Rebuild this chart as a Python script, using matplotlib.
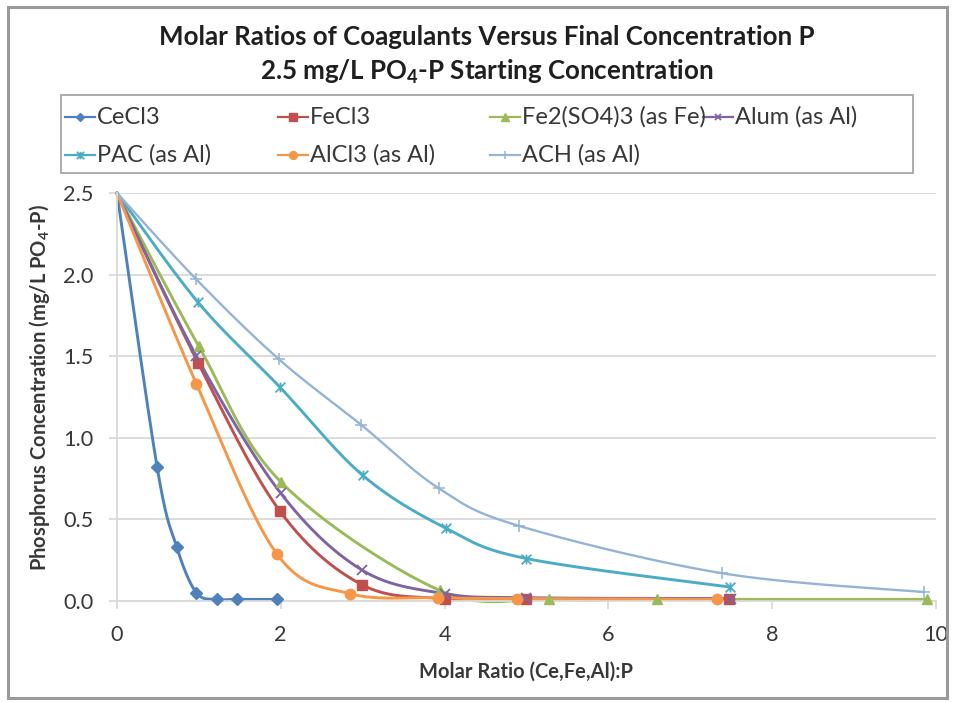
"""Molar ratio of coagulants vs final phosphorus concentration (Excel-style chart)."""

import numpy as np
import matplotlib
matplotlib.use("Agg")
import matplotlib.pyplot as plt
from matplotlib.lines import Line2D
from matplotlib.patches import Rectangle
from matplotlib.path import Path

plt.rcParams["font.family"] = ["Lato", "DejaVu Sans"]
plt.rcParams["mathtext.fontset"] = "custom"
plt.rcParams["mathtext.rm"] = "Lato"
plt.rcParams["mathtext.bf"] = "Lato:bold"

# ---------------------------------------------------------------------------
# Data
# ---------------------------------------------------------------------------
SERIES_NAMES = [
    "CeCl3", "FeCl3", "Fe2(SO4)3 (as Fe)", "Alum (as Al)",
    "PAC (as Al)", "AlCl3 (as Al)", "ACH (as Al)",
]

cecl3_x = [0, 0.49, 0.73, 0.97, 1.22, 1.46, 1.95]
cecl3_y = [2.5, 0.82, 0.33, 0.05, 0.01, 0.01, 0.01]

fecl3_x = [0, 0.99, 1.99, 2.99, 4.0, 4.99, 7.47]
fecl3_y = [2.5, 1.46, 0.55, 0.10, 0.015, 0.015, 0.01]

fe2so4_x = [0, 1.0, 2.0, 3.94, 5.27, 6.59, 9.89]
fe2so4_y = [2.5, 1.56, 0.73, 0.065, 0.01, 0.01, 0.01]

alum_x = [0, 0.97, 2.0, 2.99, 4.0, 5.0, 7.5]
alum_y = [2.5, 1.50, 0.66, 0.19, 0.045, 0.02, 0.015]

pac_x = [0, 0.99, 1.99, 3.0, 4.02, 5.0, 7.49]
pac_y = [2.5, 1.83, 1.31, 0.77, 0.445, 0.26, 0.085]

alcl3_x = [0, 0.97, 1.95, 2.84, 3.92, 4.89, 7.33]
alcl3_y = [2.5, 1.33, 0.29, 0.045, 0.02, 0.015, 0.01]

ach_x = [0, 0.97, 1.98, 2.98, 3.93, 4.91, 7.39, 9.85]
ach_y = [2.5, 1.97, 1.48, 1.08, 0.69, 0.46, 0.17, 0.055]

X_TICKS = [0, 2, 4, 6, 8, 10]
Y_TICKS = [0.0, 0.5, 1.0, 1.5, 2.0, 2.5]

# ---------------------------------------------------------------------------
# Styling / layout (pixel positions measured on the reference)
# ---------------------------------------------------------------------------
W, H = 954, 702
AX_LEFT, AX_RIGHT, AX_TOP, AX_BOTTOM = 117, 936, 193, 601
TEXT_DARK = "#1F1F1F"
TEXT_GREY = "#383838"
GRID = "#D9D9D9"

STAR = Path(
    [(-1, -1), (1, 1), (-1, 1), (1, -1), (0, -1), (0, 1)],
    [Path.MOVETO, Path.LINETO, Path.MOVETO, Path.LINETO, Path.MOVETO, Path.LINETO],
)
STYLES = [
    dict(color="#4F81BD", marker="D", ms=6),
    dict(color="#C0504D", marker="s", ms=7.5),
    dict(color="#9BBB59", marker="^", ms=7.5),
    dict(color="#8064A2", marker="x", ms=6.5, mew=1.3),
    dict(color="#4BACC6", marker=STAR, ms=7, mew=1.3),
    dict(color="#F79646", marker="o", ms=7.5),
    dict(color="#95B3D7", marker="+", ms=8, mew=1.1),
]
LINE_WIDTHS = [2.1, 2.1, 2.1, 2.1, 2.1, 2.1, 1.7]


def fx(px):
    return px / W


def fy(py):
    return 1 - py / H


def excel_smooth(x, y, n=30):
    """Bezier smoothing similar to Excel's 'smoothed line' option."""
    pts = np.column_stack([x, y]).astype(float)
    out = [pts[0]]
    t = np.linspace(0, 1, n)[1:, None]
    for i in range(len(pts) - 1):
        p0 = pts[i - 1] if i > 0 else pts[i]
        p1, p2 = pts[i], pts[i + 1]
        p3 = pts[i + 2] if i + 2 < len(pts) else pts[i + 1]
        c1 = p1 + (p2 - p0) / 6
        c2 = p2 - (p3 - p1) / 6
        seg = (1 - t) ** 3 * p1 + 3 * (1 - t) ** 2 * t * c1 + 3 * (1 - t) * t ** 2 * c2 + t ** 3 * p2
        out.extend(seg)
    out = np.array(out)
    return out[:, 0], out[:, 1]


def size_for_width(fig, text, width_px, weight="normal", base=12.0):
    """Font size (pt) at which `text` is about `width_px` wide."""
    renderer = fig.canvas.get_renderer()
    probe = fig.text(0, 0, text, fontsize=base, fontweight=weight)
    w = probe.get_window_extent(renderer).width
    probe.remove()
    return base * width_px / w


def main() -> None:
    fig = plt.figure(figsize=(W / 100, H / 100), dpi=100)

    title_fs = size_for_width(fig, "Molar Ratios of Coagulants Versus Final Concentration P",
                              649, "bold")
    legend_fs = size_for_width(fig, "Alum (as Al)", 122)
    tick_fs = size_for_width(fig, "2.5", 30)
    label_fs = size_for_width(fig, "Phosphorus Concentration (mg/L PO4-P)", 366, "bold")

    # chart border
    fig.patches.append(Rectangle((fx(8), fy(698)), fx(947) - fx(8), fy(7) - fy(698),
                                 transform=fig.transFigure, fill=False,
                                 edgecolor="#9A9A9A", linewidth=2.2))

    ax = fig.add_axes([fx(AX_LEFT), fy(AX_BOTTOM), fx(AX_RIGHT) - fx(AX_LEFT),
                       fy(AX_TOP) - fy(AX_BOTTOM)])

    data = [
        (cecl3_x, cecl3_y), (fecl3_x, fecl3_y), (fe2so4_x, fe2so4_y), (alum_x, alum_y),
        (pac_x, pac_y), (alcl3_x, alcl3_y), (ach_x, ach_y),
    ]
    for (xs, ys), st, lw in zip(data, STYLES, LINE_WIDTHS):
        sx, sy = excel_smooth(xs, ys)
        ax.plot(sx, sy, color=st["color"], lw=lw, solid_capstyle="round", zorder=2,
                clip_on=False)
        ax.plot(xs[1:], ys[1:], linestyle="none", marker=st["marker"], ms=st["ms"],
                color=st["color"], mec=st["color"], mew=st.get("mew", 1.0), zorder=3,
                clip_on=False)

    ax.set_xlim(0, 10)
    ax.set_ylim(0, 2.5)
    ax.set_xticks(X_TICKS)
    ax.set_yticks(Y_TICKS)
    ax.set_yticklabels([f"{v:.1f}" for v in Y_TICKS])
    ax.grid(axis="y", color=GRID, linewidth=1.3)
    ax.set_axisbelow(True)
    for side in ("top", "right"):
        ax.spines[side].set_visible(False)
    for side in ("left", "bottom"):
        ax.spines[side].set_color(GRID)
        ax.spines[side].set_linewidth(1.3)
    ax.tick_params(axis="both", direction="out", length=6, width=1.3, color=GRID,
                   labelsize=tick_fs, labelcolor=TEXT_GREY, pad=11)

    ax.set_xlabel("Molar Ratio (Ce,Fe,Al):P", fontsize=label_fs, fontweight="bold",
                  color=TEXT_GREY, va="center")
    ax.xaxis.set_label_coords(0.5, -(672 - AX_BOTTOM) / (AX_BOTTOM - AX_TOP))
    ax.set_ylabel(r"Phosphorus Concentration (mg/L PO$\mathbf{_4}$-P)", fontsize=label_fs,
                  fontweight="bold", color=TEXT_GREY, va="center")
    ax.yaxis.set_label_coords((40 - AX_LEFT) / (AX_RIGHT - AX_LEFT),
                              (AX_BOTTOM - 388) / (AX_BOTTOM - AX_TOP))

    fig.text(fx(487), fy(37), "Molar Ratios of Coagulants Versus Final Concentration P",
             ha="center", va="center", fontsize=title_fs, fontweight="bold", color=TEXT_DARK)
    fig.text(fx(487), fy(72), r"2.5 mg/L PO$\mathbf{_4}$-P Starting Concentration",
             ha="center", va="center", fontsize=title_fs, fontweight="bold", color=TEXT_DARK)

    # legend box
    fig.patches.append(Rectangle((fx(61), fy(173)), fx(913) - fx(61), fy(95) - fy(173),
                                 transform=fig.transFigure, fill=False,
                                 edgecolor="#A6A6A6", linewidth=1.3))
    for i, (name, st) in enumerate(zip(SERIES_NAMES, STYLES)):
        row, col = divmod(i, 4)
        x0 = 65 + 212.7 * col
        y0 = 117 + 38 * row
        fig.add_artist(Line2D([fx(x0), fx(x0 + 30)], [fy(y0), fy(y0)],
                              transform=fig.transFigure, color=st["color"], lw=1.6))
        fig.add_artist(Line2D([fx(x0 + 15)], [fy(y0)], transform=fig.transFigure,
                              linestyle="none", marker=st["marker"], ms=st["ms"] * 0.75,
                              color=st["color"], mec=st["color"], mew=st.get("mew", 1.0)))
        fig.text(fx(x0 + 32), fy(y0), name, ha="left", va="center", fontsize=legend_fs,
                 color=TEXT_GREY)

    fig.savefig("out.png", dpi=100)


if __name__ == "__main__":
    main()
